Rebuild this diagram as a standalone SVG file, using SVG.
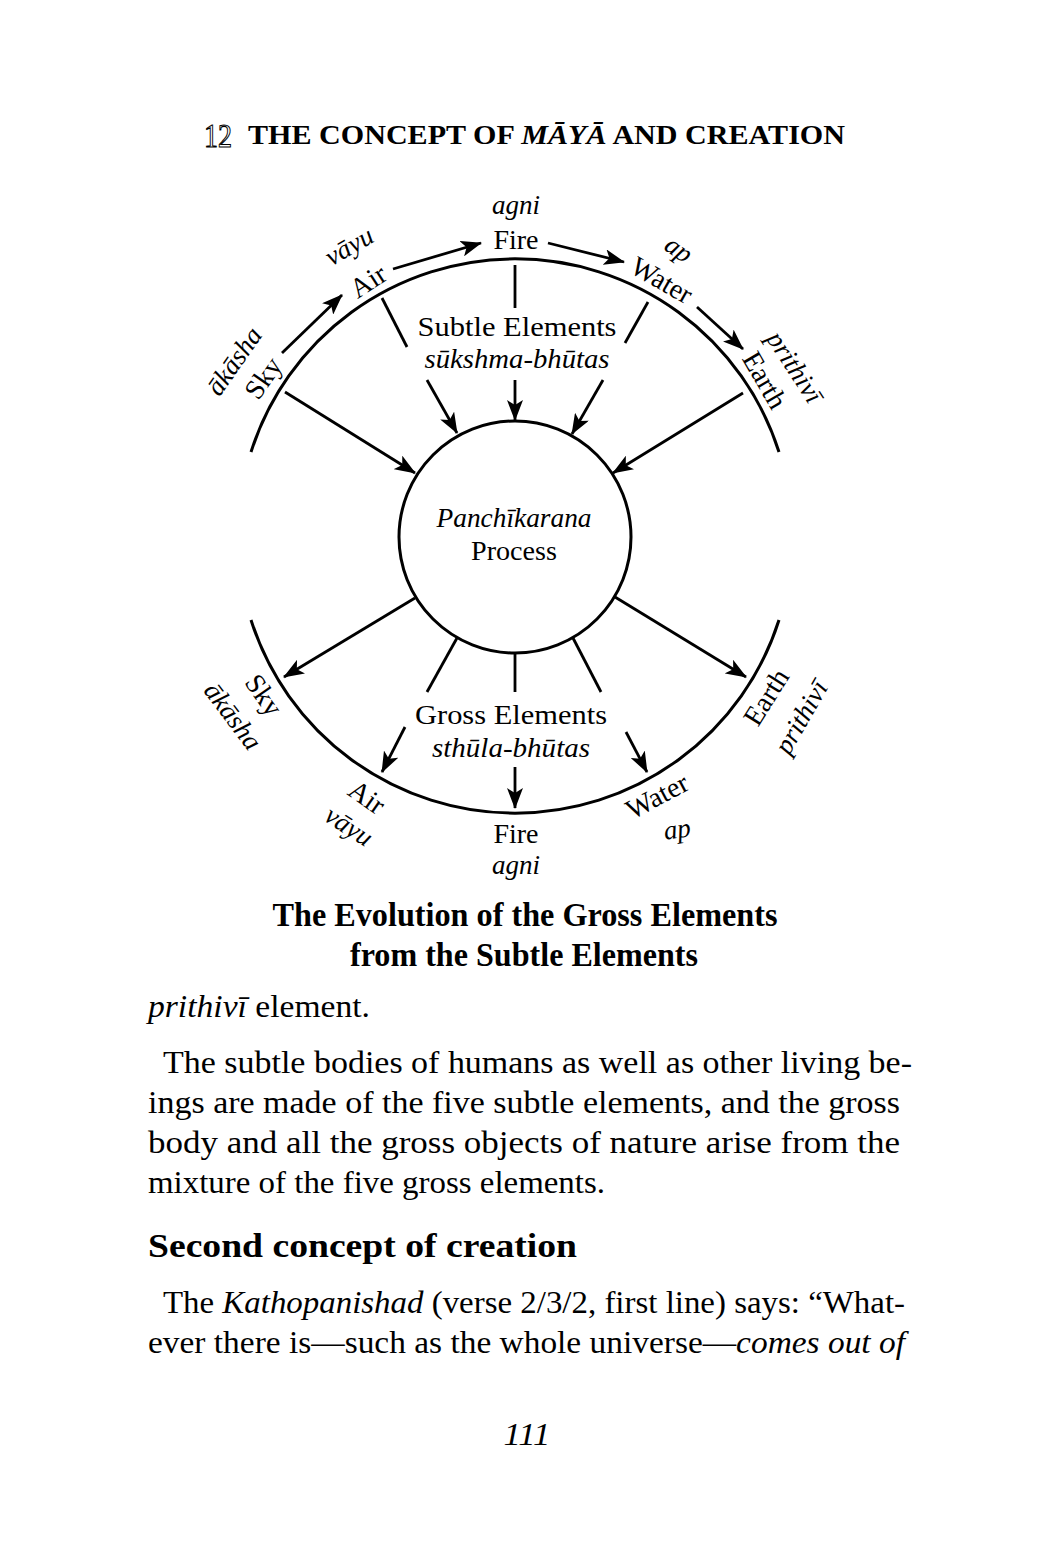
<svg xmlns="http://www.w3.org/2000/svg" width="1050" height="1550" viewBox="0 0 1050 1550">
<style>
.t{font-family:"Liberation Serif",serif;fill:#000}
.i{font-style:italic}
.b{font-weight:bold}
.lab{font-size:28px}
.ital{font-size:27px;font-style:italic}
.body{font-size:31px}
.c{text-anchor:middle}
.cc{text-anchor:middle;dominant-baseline:central}
.ln{stroke:#000;stroke-width:2.8;fill:none}
.arc{stroke:#000;stroke-width:3;fill:none}
.ar{marker-end:url(#ah)}
</style>
<defs>
<marker id="ah" viewBox="0 0 21 16" refX="20" refY="8" markerWidth="21" markerHeight="16" markerUnits="userSpaceOnUse" orient="auto">
<path d="M0,0 L21,8 L0,16 L5,8 z" fill="#000"/>
</marker>
</defs>
<rect width="1050" height="1550" fill="#fff"/>

<g id="header">
<text x="204" y="147" class="t" font-size="34" fill="none" stroke="#000" stroke-width="1.1" style="fill:none" textLength="28" lengthAdjust="spacingAndGlyphs">12</text>
<text x="248" y="144" class="t b" font-size="28" textLength="597" lengthAdjust="spacingAndGlyphs">THE CONCEPT OF <tspan class="i">MĀYĀ</tspan> AND CREATION</text>
</g>

<g id="arcs">
<path class="arc" d="M251,452 A277,277 0 0 1 779,452"/>
<path class="arc" d="M251,620 A277,277 0 0 0 779,620"/>
</g>

<g id="panchikarana">
<circle cx="515" cy="537" r="116" class="arc"/>
<text x="514" y="527" class="t ital c" textLength="155" lengthAdjust="spacingAndGlyphs">Panchīkarana</text>
<text x="514" y="560" class="t lab c" textLength="86" lengthAdjust="spacingAndGlyphs">Process</text>
</g>

<g id="subtle-label">
<text x="517" y="336" class="t lab c" textLength="199" lengthAdjust="spacingAndGlyphs">Subtle Elements</text>
<text x="517" y="368" class="t ital c" textLength="185" lengthAdjust="spacingAndGlyphs">sūkshma-bhūtas</text>
</g>

<g id="gross-label">
<text x="511" y="724" class="t lab c" textLength="192" lengthAdjust="spacingAndGlyphs">Gross Elements</text>
<text x="511" y="757" class="t ital c" textLength="158" lengthAdjust="spacingAndGlyphs">sthūla-bhūtas</text>
</g>

<g id="upper-sky">
<text class="t lab cc" transform="translate(263,378) rotate(-55)">Sky</text>
<text class="t ital cc" transform="translate(234,361) rotate(-55)">ākāsha</text>
</g>
<g id="upper-air">
<text class="t lab cc" transform="translate(368,281) rotate(-33)">Air</text>
<text class="t ital cc" transform="translate(349,246) rotate(-30)">vāyu</text>
</g>
<g id="upper-fire">
<text x="516" y="214" class="t ital c">agni</text>
<text x="516" y="249" class="t lab c">Fire</text>
</g>
<g id="upper-water">
<text class="t lab cc" transform="translate(662,280) rotate(30)">Water</text>
<text class="t ital cc" transform="translate(679,249) rotate(35)">ap</text>
</g>
<g id="upper-earth">
<text class="t lab cc" transform="translate(765,380) rotate(60)">Earth</text>
<text class="t ital cc" transform="translate(795,367) rotate(57)">prithivī</text>
</g>

<g id="lower-sky">
<text class="t lab cc" transform="translate(264,695) rotate(55)">Sky</text>
<text class="t ital cc" transform="translate(233,716) rotate(53)">ākāsha</text>
</g>
<g id="lower-air">
<text class="t lab cc" transform="translate(367,797) rotate(35)">Air</text>
<text class="t ital cc" transform="translate(349,826) rotate(33)">vāyu</text>
</g>
<g id="lower-fire">
<text x="516" y="843" class="t lab c">Fire</text>
<text x="516" y="874" class="t ital c">agni</text>
</g>
<g id="lower-water">
<text class="t lab cc" transform="translate(657,796) rotate(-28)">Water</text>
<text class="t ital cc" transform="translate(677,829) rotate(-8)">ap</text>
</g>
<g id="lower-earth">
<text class="t lab cc" transform="translate(766,697) rotate(-58)">Earth</text>
<text class="t ital cc" transform="translate(801,717) rotate(-60)">prithivī</text>
</g>

<g id="connectors">
<line class="ln ar" x1="282" y1="353" x2="342" y2="295"/>
<line class="ln ar" x1="393" y1="269" x2="481" y2="243"/>
<line class="ln ar" x1="548" y1="243" x2="624" y2="262"/>
<line class="ln ar" x1="697" y1="307" x2="743" y2="349"/>

<line class="ln ar" x1="285" y1="392" x2="415" y2="473"/>
<line class="ln ar" x1="743" y1="393" x2="613" y2="473"/>
<line class="ln" x1="382" y1="298" x2="407" y2="347"/>
<line class="ln" x1="515" y1="265" x2="515" y2="308"/>
<line class="ln" x1="648" y1="302" x2="625" y2="343"/>
<line class="ln ar" x1="427" y1="380" x2="457" y2="433"/>
<line class="ln ar" x1="515" y1="380" x2="515" y2="420"/>
<line class="ln ar" x1="603" y1="380" x2="572" y2="434"/>

<line class="ln ar" x1="415" y1="598" x2="284" y2="677"/>
<line class="ln ar" x1="615" y1="597" x2="746" y2="677"/>
<line class="ln" x1="457" y1="638" x2="427" y2="692"/>
<line class="ln" x1="515" y1="653" x2="515" y2="692"/>
<line class="ln" x1="573" y1="638" x2="601" y2="692"/>
<line class="ln ar" x1="405" y1="727" x2="382" y2="772"/>
<line class="ln ar" x1="515" y1="767" x2="515" y2="808"/>
<line class="ln ar" x1="626" y1="732" x2="647" y2="772"/>
</g>

<g id="caption">
<text x="525" y="926" class="t b c" font-size="33" textLength="505" lengthAdjust="spacingAndGlyphs">The Evolution of the Gross Elements</text>
<text x="524" y="966" class="t b c" font-size="33" textLength="348" lengthAdjust="spacingAndGlyphs">from the Subtle Elements</text>
</g>

<g id="body">
<text x="148" y="1017" class="t body" textLength="222" lengthAdjust="spacingAndGlyphs"><tspan class="i">prithivī</tspan> element.</text>
<text x="163" y="1073" class="t body" textLength="749" lengthAdjust="spacingAndGlyphs">The subtle bodies of humans as well as other living be-</text>
<text x="148" y="1113" class="t body" textLength="752" lengthAdjust="spacingAndGlyphs">ings are made of the five subtle elements, and the gross</text>
<text x="148" y="1153" class="t body" textLength="752" lengthAdjust="spacingAndGlyphs">body and all the gross objects of nature arise from the</text>
<text x="148" y="1193" class="t body" textLength="457" lengthAdjust="spacingAndGlyphs">mixture of the five gross elements.</text>
<text x="148" y="1257" class="t b" font-size="34" textLength="429" lengthAdjust="spacingAndGlyphs">Second concept of creation</text>
<text x="163" y="1313" class="t body" textLength="742" lengthAdjust="spacingAndGlyphs">The <tspan class="i">Kathopanishad</tspan> (verse 2/3/2, first line) says: “What-</text>
<text x="148" y="1353" class="t body" textLength="757" lengthAdjust="spacingAndGlyphs">ever there is—such as the whole universe—<tspan class="i">comes out of</tspan></text>
<text x="527" y="1445" class="t body i c" textLength="47" lengthAdjust="spacingAndGlyphs">111</text>
</g>
</svg>
